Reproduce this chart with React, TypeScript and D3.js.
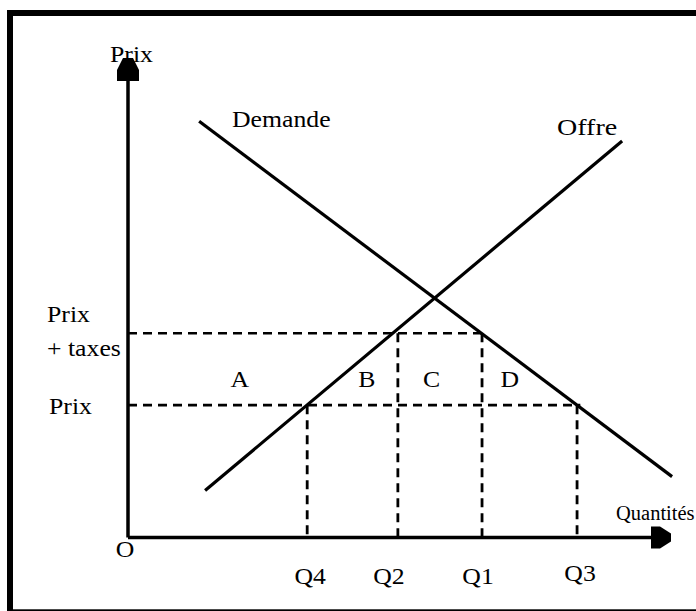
import React from "react";
import * as d3 from "d3";

const W = 696;
const H = 611;

// points on the quantity axis
const quantityLabels = ["Q4", "Q2", "Q1", "Q3"];
const quantityValues = [33.0, 49.7, 65.2, 82.7];
// which price level each quantity rises to (index into priceValues)
const quantityPriceIndex = [0, 1, 1, 0];

// price levels on the price axis
const priceValues = [27.6, 42.6];
// quantity where each dashed price line stops
const priceEnds = [83.3, 65.2];

// the two curves, as [start, end]
const demandeQ = [13.1, 100.2];
const demandeP = [86.8, 12.7];
const offreQ = [14.2, 91.0];
const offreP = [9.8, 82.7];

// surplus areas between the two price levels
const areaLabels = ["A", "B", "C", "D"];
const areaQ = [20.6, 44.0, 55.9, 70.3];

const FONT = "'Liberation Serif', 'Times New Roman', serif";
const FS = 23;
const SX = 1.12;

const Label = ({ x, y, text, anchor = "start", sx = SX, fs = FS }) => (
  <g transform={`translate(${x},${y}) scale(${sx},1)`}>
    <text x={0} y={0} textAnchor={anchor} fontFamily={FONT} fontSize={fs} fill="#000">
      {text}
    </text>
  </g>
);

const App = () => {
  const x = d3.scaleLinear().domain([0, 100]).range([128, 671]);
  const y = d3.scaleLinear().domain([0, 100]).range([537.5, 58]);

  const line = d3
    .line<[number, number]>()
    .x((d) => x(d[0]))
    .y((d) => y(d[1]));

  const demande: [number, number][] = demandeQ.map((q, i) => [q, demandeP[i]]);
  const offre: [number, number][] = offreQ.map((q, i) => [q, offreP[i]]);

  const x0 = x(0);
  const y0 = y(0);
  const xTip = x(100);
  const yTip = y(100);

  // arrow heads
  const yArrow = [
    [-5, 0], [5, 0], [11, 12], [11, 23], [-11, 23], [-11, 12],
  ].map(([dx, dy]) => `${x0 + dx},${yTip + dy}`).join(" ");
  const xArrow = [
    [0, -4], [0, 4], [-11, 11], [-20, 11], [-20, -11], [-11, -11],
  ].map(([dx, dy]) => `${xTip + dx},${y0 + dy}`).join(" ");

  const dash = "9 6";
  const qLabelDx = [3, -9, -4, 3];
  const qLabelY = [584, 584, 584, 581];

  return (
    <svg
      width={W}
      height={H}
      style={{ position: "absolute", left: 0, top: 0, background: "#fff" }}
    >
      {/* frame */}
      <rect x={10} y={13} width={700} height={599.3} fill="#fff" stroke="#000" strokeWidth={6} />

      {/* dashed price lines */}
      {priceValues.map((p, i) => (
        <line
          key={"p" + i}
          x1={x0}
          x2={x(priceEnds[i])}
          y1={y(p)}
          y2={y(p)}
          stroke="#000"
          strokeWidth={2.6}
          strokeDasharray={dash}
        />
      ))}

      {/* dashed quantity lines */}
      {quantityValues.map((q, i) => (
        <line
          key={"q" + i}
          x1={x(q)}
          x2={x(q)}
          y1={y(priceValues[quantityPriceIndex[i]])}
          y2={y0}
          stroke="#000"
          strokeWidth={2.8}
          strokeDasharray={dash}
        />
      ))}

      {/* curves */}
      <path d={line(demande) || ""} fill="none" stroke="#000" strokeWidth={3.2} />
      <path d={line(offre) || ""} fill="none" stroke="#000" strokeWidth={3.2} />

      {/* labels */}
      <Label x={110} y={62} text="Prix" />
      <Label x={232} y={127} text="Demande" />
      <Label x={557} y={135} text="Offre" sx={1.22} />
      <Label x={47} y={322} text="Prix" />
      <Label x={47} y={356} text="+ taxes" />
      <Label x={49} y={414} text="Prix" />
      <Label x={616} y={520} text="Quantités" sx={1} fs={20.5} />
      <Label x={125} y={557} text="O" anchor="middle" />
      {areaLabels.map((t, i) => (
        <Label
          key={t}
          x={x(areaQ[i])}
          y={y((priceValues[0] + priceValues[1]) / 2) + 18}
          text={t}
          anchor="middle"
        />
      ))}
      {quantityLabels.map((t, i) => (
        <Label
          key={t}
          x={x(quantityValues[i]) + qLabelDx[i]}
          y={qLabelY[i]}
          text={t}
          anchor="middle"
        />
      ))}

      {/* axes */}
      <line x1={x0} x2={x0} y1={y0} y2={yTip + 10} stroke="#000" strokeWidth={3.5} />
      <line x1={x0} x2={xTip - 10} y1={y0} y2={y0} stroke="#000" strokeWidth={3.5} />
      <polygon points={yArrow} fill="#000" />
      <polygon points={xArrow} fill="#000" />
    </svg>
  );
};

export default App;
